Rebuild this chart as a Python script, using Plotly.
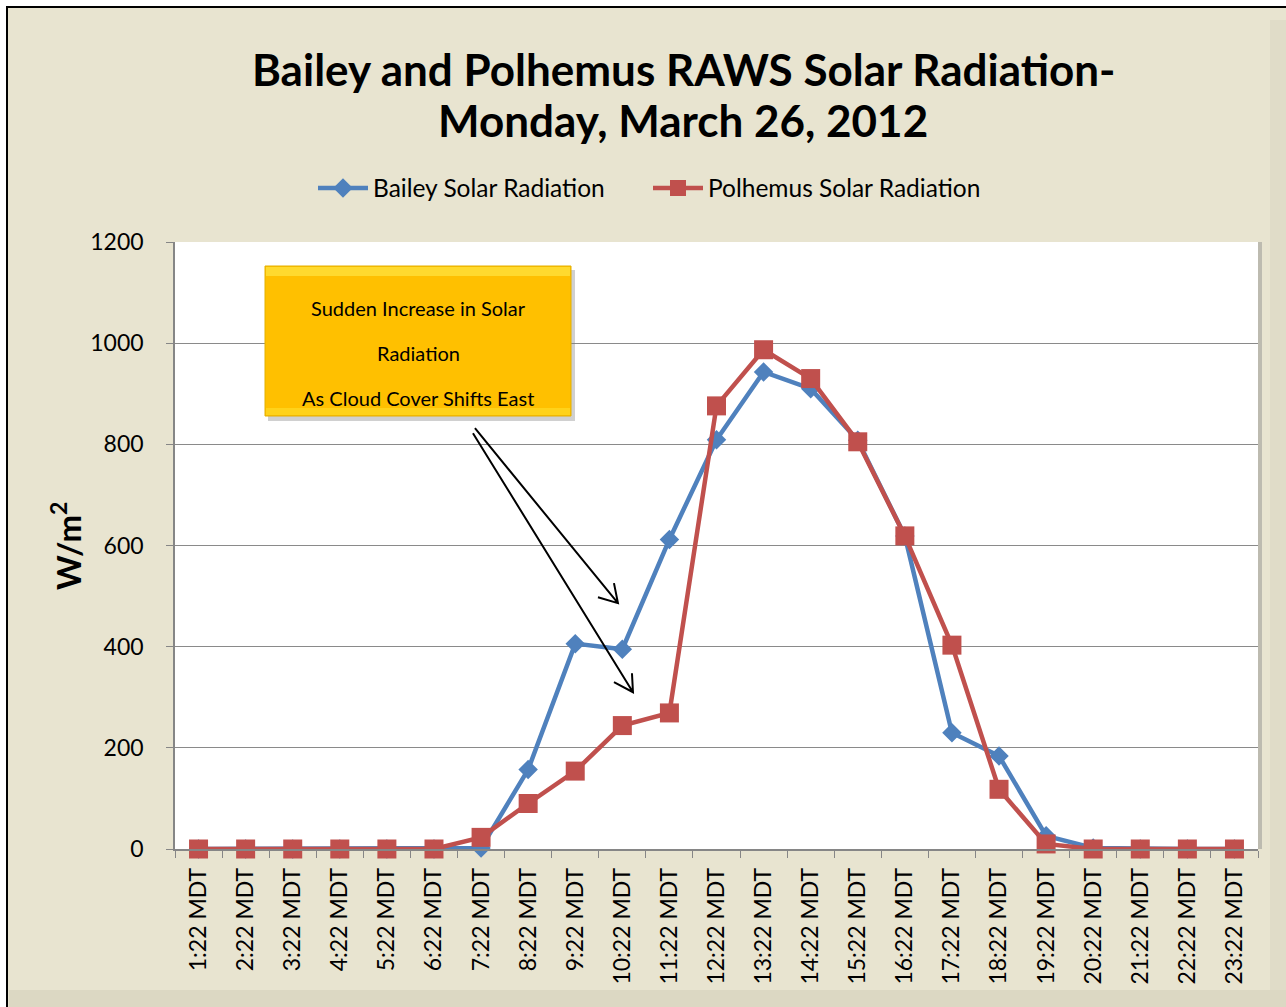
import plotly.graph_objects as go

# ---- data ----
categories = ["1:22 MDT", "2:22 MDT", "3:22 MDT", "4:22 MDT", "5:22 MDT", "6:22 MDT",
              "7:22 MDT", "8:22 MDT", "9:22 MDT", "10:22 MDT", "11:22 MDT", "12:22 MDT",
              "13:22 MDT", "14:22 MDT", "15:22 MDT", "16:22 MDT", "17:22 MDT", "18:22 MDT",
              "19:22 MDT", "20:22 MDT", "21:22 MDT", "22:22 MDT", "23:22 MDT"]
bailey = [0, 0, 0, 0, 0, 0, 2, 157, 406, 395, 612, 809, 943, 910, 808, 619, 230, 184, 26, 2, 0, 0, 0]
polhemus = [0, 0, 0, 0, 0, 0, 23, 90, 154, 244, 269, 876, 987, 930, 805, 619, 403, 118, 10, 0, 0, 0, 0]
y_ticks = [0, 200, 400, 600, 800, 1000, 1200]

title_lines = ["Bailey and Polhemus RAWS Solar Radiation-", "Monday, March 26, 2012"]
callout_lines = ["Sudden Increase in Solar", "Radiation", "As Cloud Cover Shifts East"]

# ---- layout geometry (pixels) ----
W, H = 1286, 1007
L, R, T, B = 175, 28, 242, 158
PW, PH = W - L - R, H - T - B

def px(x):
    return (x - L) / PW

def py(y):
    return (H - B - y) / PH

FONT = "Lato"
BLUE = "#4F81BD"
RED = "#C0504D"
BEIGE = "#E8E4D0"
GRID = "#8A8A8A"

fig = go.Figure()
fig.add_trace(go.Scatter(
    x=categories, y=bailey, name="Bailey Solar Radiation", mode="lines+markers",
    line=dict(color=BLUE, width=4.5), marker=dict(symbol="diamond", size=15, color=BLUE),
    cliponaxis=False))
fig.add_trace(go.Scatter(
    x=categories, y=polhemus, name="Polhemus Solar Radiation", mode="lines+markers",
    line=dict(color=RED, width=4.5), marker=dict(symbol="square", size=19, color=RED),
    cliponaxis=False))

shapes = [
    # frame background with black border
    dict(type="rect", xref="paper", yref="paper", x0=px(7), x1=px(W + 20), y0=py(H + 20), y1=py(7),
         fillcolor=BEIGE, line=dict(color="black", width=2), layer="below"),
    # frame shading bands (bottom / right)
    dict(type="rect", xref="paper", yref="paper", x0=px(9), x1=px(W), y0=py(H), y1=py(990),
         fillcolor="#DCD8C3", line=dict(width=0), layer="below"),
    dict(type="rect", xref="paper", yref="paper", x0=px(1270), x1=px(W), y0=py(990), y1=py(20),
         fillcolor="#E0DCC8", line=dict(width=0), layer="below"),
    # plot area shadow on the right edge
    dict(type="rect", xref="paper", yref="paper", x0=1, x1=px(1262), y0=0, y1=1,
         fillcolor="#BDBBB0", line=dict(width=0), layer="below"),
    # white plot area
    dict(type="rect", xref="paper", yref="paper", x0=0, x1=1, y0=0, y1=1,
         fillcolor="white", line=dict(width=0), layer="below"),
    # callout shadow
    dict(type="rect", xref="paper", yref="paper", x0=px(268), x1=px(575), y0=py(421), y1=py(270),
         fillcolor="rgba(120,120,120,0.35)", line=dict(width=0), layer="above"),
    # callout box
    dict(type="rect", xref="paper", yref="paper", x0=px(265), x1=px(571), y0=py(416), y1=py(266),
         fillcolor="#FFC000", line=dict(color="#E3B000", width=1), layer="above"),
    # callout bevel highlights
    dict(type="rect", xref="paper", yref="paper", x0=px(266), x1=px(570), y0=py(276), y1=py(267),
         fillcolor="#FFDA2E", line=dict(width=0), layer="above"),
    dict(type="rect", xref="paper", yref="paper", x0=px(266), x1=px(570), y0=py(415), y1=py(408),
         fillcolor="#FFD21A", line=dict(width=0), layer="above"),
]

annotations = []
# title
for txt, yy in zip(title_lines, [69, 120]):
    annotations.append(dict(text="<b>" + txt + "</b>", xref="paper", yref="paper",
                            x=px(683), y=py(yy), showarrow=False,
                            font=dict(family=FONT, size=44, color="black"),
                            xanchor="center", yanchor="middle"))
# callout text
for txt, yy in zip(callout_lines, [308, 353, 398]):
    annotations.append(dict(text=txt, xref="paper", yref="paper", x=px(418), y=py(yy),
                            showarrow=False, font=dict(family=FONT, size=20, color="black"),
                            xanchor="center", yanchor="middle"))

# arrows: head position in data coords; tail and open chevron arms as pixel offsets (screen y down)
arrows = [
    dict(hx=8.907, hy=486, tail=(-143, -175), arms=[(-20, -6), (-4, -20)]),
    dict(hx=9.226, hy=310, tail=(-160, -259), arms=[(-19, -10), (-1, -19)]),
]
for a in arrows:
    tx, ty = a["tail"]
    (x1, y1), (x2, y2) = a["arms"]
    shapes.append(dict(type="path", xref="x", yref="y", xsizemode="pixel", ysizemode="pixel",
                       xanchor=a["hx"], yanchor=a["hy"],
                       path=f"M {tx},{-ty} L 0,0 M {x1},{-y1} L 0,0 L {x2},{-y2}",
                       line=dict(color="black", width=2), layer="above"))

# y-axis title
annotations.append(dict(text="<b>W/m<sup>2</sup></b>", xref="paper", yref="paper",
                        x=px(66), y=py(546), textangle=-90, showarrow=False,
                        font=dict(family=FONT, size=33, color="black"),
                        xanchor="center", yanchor="middle"))

fig.update_layout(
    width=W, height=H,
    margin=dict(l=L, r=R, t=T, b=B, pad=0),
    paper_bgcolor="white", plot_bgcolor="white",
    font=dict(family=FONT, color="black"),
    legend=dict(orientation="h", xref="container", yref="container",
                x=313 / W, y=1 - 188 / H, xanchor="left", yanchor="middle",
                font=dict(family=FONT, size=24.5, color="black"), bgcolor="rgba(0,0,0,0)",
                entrywidth=270, entrywidthmode="pixels", itemwidth=50),
    shapes=shapes, annotations=annotations,
    showlegend=True,
)
fig.update_xaxes(type="category", categoryorder="array", categoryarray=categories,
                 range=[-0.5, len(categories) - 0.5], autorange=False,
                 tickangle=-90, ticks="outside", tickson="boundaries", ticklen=7,
                 tickcolor="#868686", showline=True, linecolor="#868686", linewidth=1.5,
                 showgrid=False, tickfont=dict(family=FONT, size=23, color="black"),
                 ticklabelstandoff=8)
fig.update_yaxes(range=[0, 1200], tickvals=y_ticks, ticks="outside", ticklen=7,
                 tickcolor="#868686", showline=True, linecolor="#868686", linewidth=1.5,
                 showgrid=True, gridcolor=GRID, gridwidth=1, zeroline=False,
                 tickfont=dict(family=FONT, size=23, color="black"), ticklabelstandoff=18)

fig.write_html("out.html", config={"displayModeBar": False},
               post_script="document.body.style.margin='0';document.body.style.overflow='hidden';")
